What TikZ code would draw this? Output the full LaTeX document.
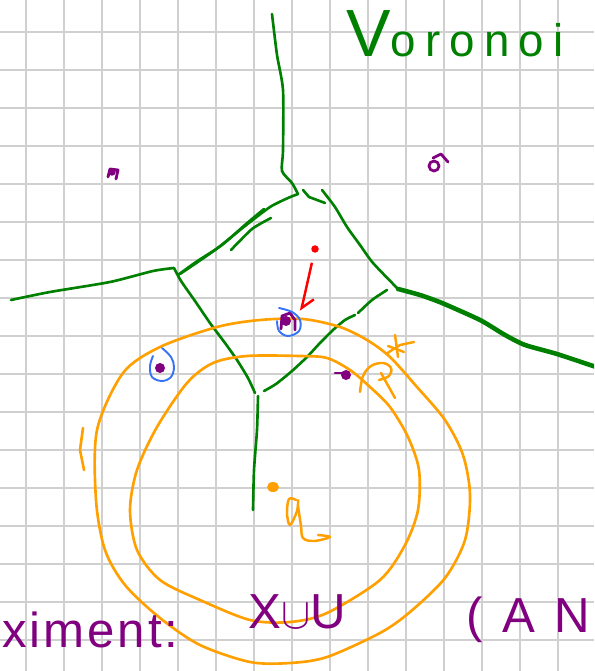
\documentclass[tikz,border=0pt]{standalone}
\usepackage{fontspec}
\setmainfont{Liberation Sans}
\usetikzlibrary{arrows.meta}
\definecolor{vgreen}{RGB}{0,128,0}
\definecolor{vorange}{RGB}{255,160,0}
\definecolor{vpurple}{RGB}{128,0,128}
\definecolor{vblue}{RGB}{55,115,245}
\definecolor{gridgray}{RGB}{208,208,208}
\begin{document}
\begin{tikzpicture}[x=0.02cm, y=-0.02cm,
  edge/.style={vgreen, line width=1.5pt, line cap=round, line join=round},
  ring/.style={vorange, line width=1.5pt, line cap=round, line join=round},
  site/.style={circle, fill=vpurple, inner sep=0pt, minimum size=0.2cm},
  halo/.style={vblue, line width=1.1pt, line cap=round},
  scrawl/.style={vorange, line width=1.4pt, line cap=round, line join=round},
  ink/.style={vpurple, line width=1.6pt, line cap=round, line join=round}]
\useasboundingbox (0,0) rectangle (594,671);
\clip (0,0) rectangle (594,671);
\foreach \gx in {0,...,14} \draw[gridgray, line width=1.1pt] ({26+38*\gx},0) -- ({26+38*\gx},671);
\foreach \gy in {0,...,16} \draw[gridgray, line width=1.1pt] (0,{32+38*\gy}) -- (594,{32+38*\gy});

\coordinate (etop) at (272,14);
\coordinate (vtop) at (298,194);
\coordinate (vtopr) at (322,190);
\coordinate (vleft) at (174,268);
\coordinate (eleft) at (11,300);
\coordinate (vbot) at (258,396);
\coordinate (ebot) at (253,510);
\coordinate (vright) at (398,289);
\coordinate (eright) at (596,367);

\draw[edge] plot[smooth, tension=0.4] coordinates {(etop) (277,55) (283,90) (283,150) (282,171) (292,183) (vtop)};
\draw[edge] plot[smooth, tension=0.4] coordinates {(vtop) (288,198) (270,207) (245,226) (215,250) (180,274)};
\draw[edge] plot[smooth, tension=0.4] coordinates {(264,209) (246,224) (222,245) (196,262) (178,275)};
\draw[edge] plot[smooth, tension=0.4] coordinates {(271,218) (252,229) (231,250)};
\draw[edge] (303,190) -- (309,197) -- (325,203);
\draw[edge] plot[smooth, tension=0.4] coordinates {(vtopr) (335,207) (347,227) (360,245) (373,263) (vright)};
\draw[edge] plot[smooth, tension=0.4] coordinates {(vleft) (153,271) (110,282) (50,292) (eleft)};
\draw[edge] plot[smooth, tension=0.4] coordinates {(vleft) (181,281) (195,301) (210,323) (225,343) (237,360) (248,378) (255,393)};
\draw[edge] plot[smooth, tension=0.4] coordinates {(vbot) (257,430) (254,470) (ebot)};
\draw[edge] plot[smooth, tension=0.4] coordinates {(264,391) (276,384) (292,371) (307,357) (320,343) (333,330) (345,320) (355,315)};
\draw[edge] plot[smooth, tension=0.4] coordinates {(358,313) (372,300) (387,290)};
\draw[edge, line width=2.6pt] plot[smooth, tension=0.4] coordinates {(vright) (420,295) (442,303) (480,320) (505,335) (525,345) (557,354) (eright)};

\draw[ring] plot[smooth cycle, tension=0.5] coordinates {(217,327) (260,320) (303,319) (340,327) (367,340) (390,357) (417,387) (445,420) (463,455) (470,495) (465,540) (445,578) (410,612) (380,633) (327,657) (290,663) (250,662) (200,645) (160,618) (125,585) (105,550) (96,500) (97,430) (123,373) (160,347)};
\draw[ring] plot[smooth cycle, tension=0.5] coordinates {(213,363) (247,356) (300,356) (327,358) (350,370) (370,387) (390,407) (408,437) (419,470) (418,510) (405,545) (380,580) (327,613) (290,622) (250,620) (200,600) (160,580) (137,550) (130,510) (137,470) (157,427) (187,383)};
\draw[ring] (83,428) -- (80,450) -- (84,470);

\draw[scrawl] (395,335) -- (398,357);
\draw[scrawl] (386,354) -- (400,345) -- (414,342);
\draw[scrawl] (388,346) -- (404,352);
\draw[scrawl] plot[smooth, tension=0.6] coordinates {(360,392) (363,376) (371,366) (383,363) (391,368) (389,376) (379,380)};
\draw[scrawl] (381,373) -- (395,398);
\fill[vorange] (273,487) ellipse (6 and 5);
\draw[scrawl] plot[smooth, tension=0.6] coordinates {(296,500) (289,499) (287,513) (290,525) (297,511) (298,500)};
\draw[scrawl] plot[smooth, tension=0.6] coordinates {(298,506) (301,526) (303,538) (314,541) (330,537) (318,535)};

\node[site, minimum size=0.15cm] (s1) at (112,172) {};
\draw[ink] (108,177) -- (110,169) -- (118,170) -- (116,179);
\draw[ink] (434,166) circle (5);
\draw[ink] (433,158) -- (441,154) -- (448,162);
\node[site] (s2) at (286,321) {};
\draw[ink] (281,329) -- (282,316) -- (290,313) -- (295,320) -- (295,330);
\draw[halo] plot[smooth, tension=0.6] coordinates {(279,308) (292,312) (300,320) (299,331) (288,336) (279,331) (277,321)};
\node[site] (s3) at (160,368) {};
\draw[halo] plot[smooth, tension=0.6] coordinates {(162,348) (171,357) (174,367) (171,377) (162,381) (152,377) (150,366) (153,356)};
\node[site] (s4) at (346,375) {};
\draw[ink] (335,373) -- (345,373);

\node[circle, fill=red, inner sep=0pt, minimum size=0.15cm] (query) at (315,249) {};
\coordinate (hit) at (301,311);
\draw[red, line width=1.4pt, shorten <=0.2cm, -{Straight Barb[harpoon, length=0.22cm, width=0.4cm]}] (query) -- (hit);

\node[anchor=base west, text=vgreen, inner sep=0pt] (title) at (346,57) {{\fontsize{38}{40}\selectfont V}\fontsize{26}{28}\selectfont\addfontfeature{LetterSpace=20}oronoi};
\node[anchor=base west, text=vpurple, inner sep=0pt, font=\fontsize{28}{30}\selectfont\addfontfeature{LetterSpace=6}] (expt) at (2,647) {ximent:};
\node[anchor=base west, text=vpurple, inner sep=0pt, font=\fontsize{28}{30}\selectfont] (setx) at (248,628) {X$\cup$U};
\node[anchor=base west, text=vpurple, inner sep=0pt, font=\fontsize{28}{30}\selectfont\addfontfeature{LetterSpace=40}] (ann) at (466,632) {(AN};
\end{tikzpicture}
\end{document}
